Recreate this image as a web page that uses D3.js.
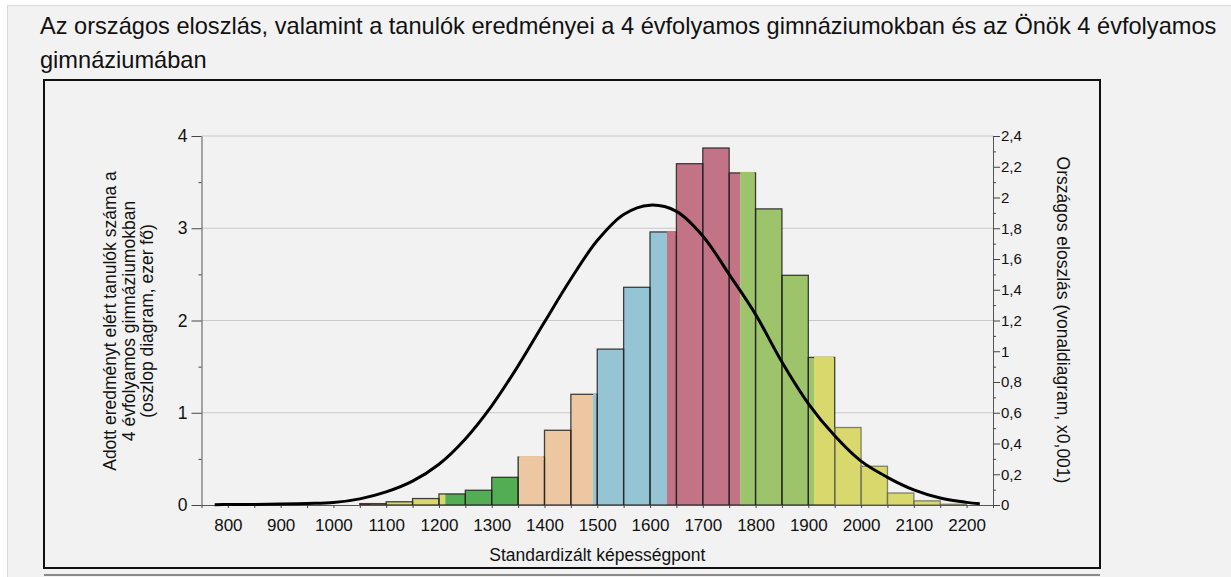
<!DOCTYPE html>
<html>
<head>
<meta charset="utf-8">
<script src="https://cdn.jsdelivr.net/npm/d3@7"></script>
<style>
  body { margin: 0; background: #ffffff; }
  svg { display: block; font-family: "Liberation Sans", Arial, sans-serif; }
</style>
</head>
<body>
<div id="chart"></div>
<script>
// histogram bins (left edge of each 50-point bin) and number of students (thousand)
var binStart = [1050, 1100, 1150, 1200, 1250, 1300, 1350, 1400, 1450, 1500, 1550, 1600,
                1650, 1700, 1750, 1800, 1850, 1900, 1950, 2000, 2050, 2100, 2150];
var binValue = [0.015, 0.035, 0.07, 0.12, 0.16, 0.30, 0.52, 0.81, 1.20, 1.69, 2.36, 2.96,
                3.70, 3.87, 3.60, 3.21, 2.49, 1.60, 0.84, 0.42, 0.13, 0.045, 0.008];
var binWidth = 50;

// ability level bands (edges) and their colours
var bandEdges = [1072, 1212, 1352, 1492, 1632, 1771, 1911];
var bandColors = ["#b3574f", "#d9d86d", "#53ad53", "#ecc7a1", "#95c5d5", "#c37386", "#9dc46b", "#d9d86d"];

// national distribution curve (x0.001)
var curveX = [775, 800, 850, 900, 950, 1000, 1050, 1100, 1150, 1200, 1250, 1300, 1350, 1400, 1450,
              1500, 1550, 1600, 1650, 1700, 1750, 1800, 1850, 1900, 1950, 2000, 2050, 2100, 2150, 2200, 2225];
var curveY = [0.002, 0.003, 0.004, 0.006, 0.01, 0.016, 0.04, 0.085, 0.155, 0.265, 0.43, 0.645, 0.905, 1.19, 1.47,
              1.72, 1.89, 1.95, 1.91, 1.75, 1.50, 1.24, 0.93, 0.66, 0.45, 0.285, 0.18, 0.098, 0.045, 0.017, 0.008];

// tick labels
var xLabels = [800, 900, 1000, 1100, 1200, 1300, 1400, 1500, 1600, 1700, 1800, 1900, 2000, 2100, 2200];
var xMinor = [750, 850, 950, 1050, 1150, 1250, 1350, 1450, 1550, 1650, 1750, 1850, 1950, 2050, 2150, 2250];
var leftTicks = [0, 1, 2, 3, 4];
var leftMinor = [0.5, 1.5, 2.5, 3.5];
var rightTicks = [0, 0.2, 0.4, 0.6, 0.8, 1, 1.2, 1.4, 1.6, 1.8, 2, 2.2, 2.4];
var rightMinor = [0.1, 0.3, 0.5, 0.7, 0.9, 1.1, 1.3, 1.5, 1.7, 1.9, 2.1, 2.3];

var titleLines = ["Az országos eloszlás, valamint a tanulók eredményei a 4 évfolyamos gimnáziumokban és az Önök 4 évfolyamos",
                  "gimnáziumában"];
var leftTitle = ["Adott eredményt elért tanulók száma a", "4 évfolyamos gimnáziumokban", "(oszlop diagram, ezer fő)"];
var rightTitle = "Országos eloszlás (vonaldiagram, x0,001)";
var xTitle = "Standardizált képességpont";

var W = 1231, H = 577;

var svg = d3.select("#chart")
    .append("svg")
    .attr("width", W)
    .attr("height", H);

// page panel
svg.append("rect")
    .attr("x", 7.5).attr("y", 5.5)
    .attr("width", W).attr("height", H)
    .attr("fill", "#f2f2f2")
    .attr("stroke", "#d9d9d9");

// title
svg.append("g").selectAll("text")
    .data(titleLines)
    .enter()
    .append("text")
    .attr("x", 40)
    .attr("y", function (d, i) { return 34 + i * 34; })
    .attr("font-size", 23.6)
    .attr("fill", "#111")
    .text(function (d) { return d; });

// chart frame
svg.append("rect")
    .attr("x", 44).attr("y", 80)
    .attr("width", 1056).attr("height", 488)
    .attr("fill", "none")
    .attr("stroke", "#111")
    .attr("stroke-width", 2);
svg.append("line")
    .attr("x1", 44).attr("x2", 1100)
    .attr("y1", 575).attr("y2", 575)
    .attr("stroke", "#8a8a8a")
    .attr("stroke-width", 2);

// scales
var x = d3.scaleLinear().domain([750, 2250]).range([201.5, 993]);
var yL = d3.scaleLinear().domain([0, 4]).range([505, 136]);
var yR = d3.scaleLinear().domain([0, 2.4]).range([505, 136]);

// gridlines
svg.append("g").selectAll("line")
    .data(leftTicks.filter(function (d) { return d > 0; }))
    .enter()
    .append("line")
    .attr("x1", x(750)).attr("x2", x(2250))
    .attr("y1", function (d) { return yL(d); })
    .attr("y2", function (d) { return yL(d); })
    .attr("stroke", "#c9c9c9")
    .attr("stroke-width", 1);

// bars: split each bin into the colour bands it crosses
var bandFrom = [-Infinity].concat(bandEdges);
var bandTo = bandEdges.concat([Infinity]);
var segs = [];
binStart.forEach(function (s, i) {
    var e = s + binWidth;
    bandColors.forEach(function (c, b) {
        var a = Math.max(s, bandFrom[b]), z = Math.min(e, bandTo[b]);
        if (z > a) segs.push({ a: a, z: z, v: binValue[i], color: c, split: a > s });
    });
});

var bars = svg.append("g");
bars.selectAll("rect.seg")
    .data(segs)
    .enter()
    .append("rect")
    .attr("class", "seg")
    .attr("x", function (d) { return x(d.a); })
    .attr("width", function (d) { return x(d.z) - x(d.a); })
    .attr("y", function (d) { return yL(d.v); })
    .attr("height", function (d) { return yL(0) - yL(d.v); })
    .attr("fill", function (d) { return d.color; });

bars.selectAll("rect.out")
    .data(binStart)
    .enter()
    .append("rect")
    .attr("class", "out")
    .attr("x", function (d) { return x(d); })
    .attr("width", function (d) { return x(d + binWidth) - x(d); })
    .attr("y", function (d, i) { return yL(binValue[i]); })
    .attr("height", function (d, i) { return yL(0) - yL(binValue[i]); })
    .attr("fill", "none")
    .attr("stroke", function (d) { return d >= 1950 ? "#6f6f5a" : "#222"; })
    .attr("stroke-opacity", 0.85)
    .attr("stroke-width", 1.3);

// right-hand parts of split bins hide the top outline
bars.selectAll("rect.cover")
    .data(segs.filter(function (d) { return d.split && d.v > 0.5; }))
    .enter()
    .append("rect")
    .attr("class", "cover")
    .attr("x", function (d) { return x(d.a); })
    .attr("width", function (d) { return x(d.z) - x(d.a) - 1; })
    .attr("y", function (d) { return yL(d.v) - 1; })
    .attr("height", 4)
    .attr("fill", function (d) { return d.color; });

// axes
function styleAxis(g, size) {
    g.select(".domain").attr("stroke", "#555");
    g.selectAll(".tick line").attr("stroke", "#444");
    g.selectAll(".tick text").attr("fill", "#111").attr("font-size", size)
        .attr("font-family", "Liberation Sans, Arial, sans-serif");
}

var gx = svg.append("g")
    .attr("transform", "translate(0," + yL(0) + ")")
    .call(d3.axisBottom(x).tickValues(xLabels).tickSize(3).tickPadding(11).tickSizeOuter(0)
        .tickFormat(function (d) { return String(d); }));
styleAxis(gx, 17);
svg.append("g")
    .attr("transform", "translate(0," + yL(0) + ")")
    .call(d3.axisBottom(x).tickValues(xMinor).tickSize(3).tickFormat("").tickSizeOuter(0))
    .call(function (g) { g.select(".domain").remove(); g.selectAll("line").attr("stroke", "#444"); });

var gl = svg.append("g")
    .attr("transform", "translate(" + x(750) + ",0)")
    .call(d3.axisLeft(yL).tickValues(leftTicks).tickSize(10).tickPadding(4).tickSizeOuter(0)
        .tickFormat(function (d) { return String(d); }));
styleAxis(gl, 17.5);
svg.append("g")
    .attr("transform", "translate(" + x(750) + ",0)")
    .call(d3.axisLeft(yL).tickValues(leftMinor).tickSize(3).tickFormat("").tickSizeOuter(0))
    .call(function (g) { g.select(".domain").remove(); g.selectAll("line").attr("stroke", "#444"); });

var gr = svg.append("g")
    .attr("transform", "translate(" + x(2250) + ",0)")
    .call(d3.axisRight(yR).tickValues(rightTicks).tickSize(7).tickPadding(1).tickSizeOuter(0)
        .tickFormat(function (d) { return String(+d.toFixed(1)).replace(".", ","); }));
styleAxis(gr, 15);
svg.append("g")
    .attr("transform", "translate(" + x(2250) + ",0)")
    .call(d3.axisRight(yR).tickValues(rightMinor).tickSize(3).tickFormat("").tickSizeOuter(0))
    .call(function (g) { g.select(".domain").remove(); g.selectAll("line").attr("stroke", "#444"); });

// national distribution curve
var line = d3.line()
    .x(function (d, i) { return x(curveX[i]); })
    .y(function (d) { return yR(d); })
    .curve(d3.curveCatmullRom.alpha(0.5));
svg.append("path")
    .datum(curveY)
    .attr("d", line)
    .attr("fill", "none")
    .attr("stroke", "#000")
    .attr("stroke-width", 3)
    .attr("stroke-linejoin", "round");

// axis titles
svg.append("text")
    .attr("transform", "translate(" + ((x(750) + x(2250)) / 2) + ",561)")
    .attr("text-anchor", "middle")
    .attr("font-size", 17.5)
    .attr("fill", "#111")
    .text(xTitle);

svg.append("g").selectAll("text")
    .data(leftTitle)
    .enter()
    .append("text")
    .attr("transform", function (d, i) { return "translate(" + (116 + i * 18.5) + ",321) rotate(-90)"; })
    .attr("text-anchor", "middle")
    .attr("font-size", 17.5)
    .attr("fill", "#111")
    .text(function (d) { return d; });

svg.append("text")
    .attr("transform", "translate(1057,320) rotate(90)")
    .attr("text-anchor", "middle")
    .attr("font-size", 17.5)
    .attr("fill", "#111")
    .text(rightTitle);
</script>
</body>
</html>
